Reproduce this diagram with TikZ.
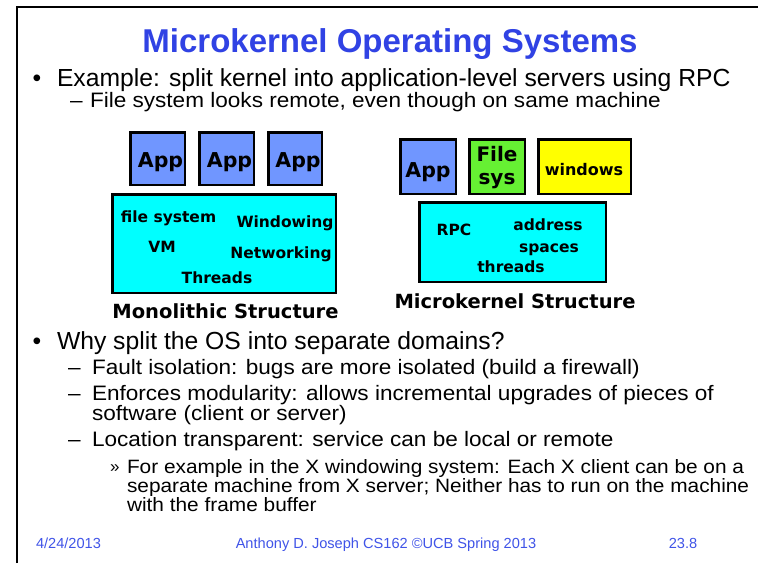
\documentclass[tikz,border=0pt]{standalone}
\usepackage{fontspec}
\setmainfont{Liberation Sans}
\newfontfamily\widesans[FakeStretch=1.08]{Liberation Sans}
\newfontfamily\comic{DejaVu Sans}
\definecolor{titleblue}{RGB}{48,66,228}
\definecolor{footblue}{RGB}{64,84,232}
\definecolor{appblue}{RGB}{112,150,255}
\definecolor{kcyan}{RGB}{0,255,255}
\definecolor{fsgreen}{RGB}{102,240,51}
\definecolor{winyellow}{RGB}{255,255,0}
\newcommand{\fs}[1]{\fontsize{#1}{#1}\selectfont}

\begin{document}
\begin{tikzpicture}[x=1pt,y=-1pt,
  textline/.style={anchor=base west,inner sep=0,outer sep=0},
  bulletmark/.style={anchor=base,inner sep=0,outer sep=0},
  blk/.style={draw=black,line width=2.5pt,inner sep=0,outer sep=0},
  appbox/.style={blk,fill=appblue},
  kernbox/.style={blk,fill=kcyan},
  lbl/.style={anchor=base,inner sep=0,outer sep=0,font=\comic\bfseries\fs{15.5}},
  diagcap/.style={anchor=base,inner sep=0,outer sep=0,font=\comic\bfseries\fs{19.5}},
  apptxt/.style={anchor=base,inner sep=0,outer sep=0,font=\comic\bfseries\fs{20.5}},
  foot/.style={anchor=base,inner sep=0,outer sep=0,text=footblue,font=\fs{14.6}},
  lvlone/.style={textline,font=\fs{24.7}},
  lvltwo/.style={textline,font=\widesans\fs{20.9}},
  lvlthree/.style={textline,font=\widesans\fs{19.3}}
]
\useasboundingbox (0,0) rectangle (758,563);
\fill[white] (0,0) rectangle (758,563);

% slide frame
\coordinate (fbl) at (17,563);
\coordinate (ftl) at (17,7);
\coordinate (ftr) at (758,7);
\draw[line width=2.5pt] (fbl) -- (ftl) -- (ftr);

% title
\node[anchor=base,inner sep=0,text=titleblue,font=\bfseries\fs{33}] (title) at (390,52) {Microkernel Operating Systems};

% first bullet
\node[bulletmark,font=\fs{24.7}] (b1) at (37,86) {•};
\node[lvlone] (l1) at (57,86) {Example: split kernel into application-level servers using RPC};
\node[lvltwo] (d1) at (70,107) {–};
\node[lvltwo] (l2) at (90,107) {File system looks remote, even though on same machine};

% monolithic structure
\node[appbox,minimum width=54.5,minimum height=52.5] (ma1) at (157.5,158.5) {};
\node[appbox,minimum width=54.5,minimum height=52.5] (ma2) at (226.5,158.5) {};
\node[appbox,minimum width=53.5,minimum height=52.5] (ma3) at (295,158.5) {};
\node[apptxt] (ma1t) at (160.5,167) {App};
\node[apptxt] (ma2t) at (229.5,167) {App};
\node[apptxt] (ma3t) at (298,167) {App};
\node[kernbox,minimum width=223.5,minimum height=98.5] (mk) at (224,243.5) {};
\node[lbl] (mfs) at (168.5,222) {file system};
\node[lbl] (mwin) at (285,227) {Windowing};
\node[lbl] (mvm) at (162,252) {VM};
\node[lbl] (mnet) at (281,258) {Networking};
\node[lbl] (mthr) at (217,283) {Threads};
\node[diagcap] (mcap) at (225.5,318) {Monolithic Structure};

% microkernel structure
\node[appbox,minimum width=55.5,minimum height=54.5] (ua) at (428,166.5) {};
\node[blk,fill=fsgreen,minimum width=55.5,minimum height=54.5] (ufs) at (497,166.5) {};
\node[blk,fill=winyellow,minimum width=92.5,minimum height=54.5] (uwin) at (584.5,166.5) {};
\node[apptxt] (uat) at (428,177) {App};
\node[apptxt,font=\comic\bfseries\fs{20}] (ufst1) at (497,161) {File};
\node[apptxt,font=\comic\bfseries\fs{20}] (ufst2) at (497,184) {sys};
\node[anchor=base,inner sep=0,font=\comic\bfseries\fs{16}] (uwint) at (584,175) {windows};
\node[kernbox,minimum width=186.5,minimum height=79.5] (uk) at (512.5,242) {};
\node[lbl] (urpc) at (454,235) {RPC};
\node[lbl] (uadr) at (548,230) {address};
\node[lbl] (uspc) at (549,252) {spaces};
\node[lbl] (uthr) at (511,272) {threads};
\node[diagcap] (ucap) at (515,308) {Microkernel Structure};

% second bullet
\node[bulletmark,font=\fs{24.7}] (b2) at (37,349) {•};
\node[lvlone] (l3) at (57,349) {Why split the OS into separate domains?};
\node[lvltwo] (d2) at (68,374) {–};
\node[lvltwo] (l4) at (92,374) {Fault isolation: bugs are more isolated (build a firewall)};
\node[lvltwo] (d3) at (68,400) {–};
\node[lvltwo] (l5) at (92,400) {Enforces modularity: allows incremental upgrades of pieces of};
\node[lvltwo] (l6) at (92,420) {software (client or server)};
\node[lvltwo] (d4) at (68,446) {–};
\node[lvltwo] (l7) at (92,446) {Location transparent: service can be local or remote};
\node[textline,font=\fs{17}] (d5) at (110,472) {»};
\node[lvlthree] (l9) at (127,473) {For example in the X windowing system: Each X client can be on a};
\node[lvlthree] (l10) at (127,492) {separate machine from X server; Neither has to run on the machine};
\node[lvlthree] (l11) at (127,511) {with the frame buffer};

% footer
\node[foot] (fdate) at (68.5,548) {4/24/2013};
\node[foot] (fmid) at (386,548) {Anthony D. Joseph CS162 ©UCB Spring 2013};
\node[foot] (fnum) at (683,548) {23.8};
\end{tikzpicture}
\end{document}
